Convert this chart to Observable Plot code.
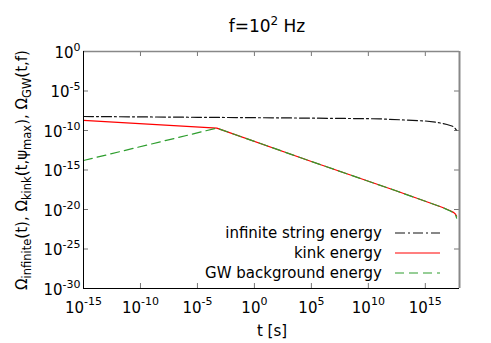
<!DOCTYPE html>
<html>
<head>
<meta charset="utf-8">
<script src="https://cdn.jsdelivr.net/npm/d3@7"></script>
<script src="https://cdn.jsdelivr.net/npm/@observablehq/plot@0.6"></script>
<style>
  html, body { margin: 0; padding: 0; background: white; }
  #chart { width: 491px; height: 343px; }
</style>
</head>
<body>
<div id="chart"></div>
<script>
// ---- data ----
const xTicks = [1e-15, 1e-10, 1e-5, 1, 1e5, 1e10, 1e15];
const yTicks = [1, 1e-5, 1e-10, 1e-15, 1e-20, 1e-25, 1e-30];

const tInfinite = [1e-15, 1e-5, 1e5, 1e11, 1e15, 1e16, 8e16, 2.5e17, 4e17, 5.6e17];
const omegaInfinite = [5.9e-9, 4.7e-9, 3.7e-9, 3.0e-9, 1.6e-9, 1.1e-9, 5.8e-10, 3.5e-10, 2.0e-10, 1.0e-10];

const tKink = [1e-15, 5e-4, 1e5, 2.3e12, 1e15, 2.9e16, 1.55e17, 3.2e17, 4.5e17, 5.6e17];
const omegaKink = [1.9e-9, 2e-10, 1.2e-14, 2.5e-18, 1.1e-19, 1.95e-20, 7e-21, 4e-21, 2.5e-21, 1.4e-21];

const tGW = [1e-15, 5e-4, 1e5, 2.3e12, 1e15, 2.9e16, 1.55e17, 3.2e17, 4.5e17, 5.6e17];
const omegaGW = [1.6e-14, 2e-10, 1.2e-14, 2.5e-18, 1.1e-19, 1.95e-20, 6.5e-21, 3.6e-21, 2.1e-21, 8e-22];

const seriesNames = ["infinite string energy", "kink energy", "GW background energy"];
const seriesColors = ["#111111", "#ff0000", "#2e9e2e"];
const seriesDash = ["10,3,2,3", null, "9,5"];

const zip = (ts, os) => ts.map((t, i) => ({t, o: os[i]}));
const infData = zip(tInfinite, omegaInfinite);
const kinkData = zip(tKink, omegaKink);
const gwData = zip(tGW, omegaGW);

const fmt = d => "10^" + Math.round(Math.log10(d));
const FONT = "'DejaVu Sans', sans-serif";

const plot = Plot.plot({
  width: 491,
  height: 343,
  marginLeft: 83,
  marginRight: 32,
  marginTop: 51,
  marginBottom: 55,
  style: {fontFamily: FONT, fontSize: "15px", color: "black", background: "white"},
  x: {type: "log", domain: [1e-15, 1e18]},
  y: {type: "log", domain: [1e-30, 1]},
  marks: [
    Plot.axisX({ticks: xTicks, tickSize: 0, tickPadding: 14, tickFormat: fmt, label: null, fontSize: 15}),
    Plot.axisY({ticks: yTicks, tickSize: 0, tickPadding: 3, tickFormat: fmt, label: null, fontSize: 15, dy: 1.5}),
    Plot.tickX(xTicks, {x: d => d, insetTop: 232, stroke: "#777"}),
    Plot.tickX(xTicks, {x: d => d, insetBottom: 232, stroke: "#777"}),
    Plot.tickY(yTicks, {y: d => d, insetRight: 371, stroke: "#777"}),
    Plot.tickY(yTicks, {y: d => d, insetLeft: 371, stroke: "#777"}),
    Plot.line(infData, {x: "t", y: "o", stroke: seriesColors[0], strokeWidth: 1.2, strokeDasharray: seriesDash[0]}),
    Plot.line(kinkData, {x: "t", y: "o", stroke: seriesColors[1], strokeWidth: 1.2}),
    Plot.line(gwData, {x: "t", y: "o", stroke: seriesColors[2], strokeWidth: 1.2, strokeDasharray: seriesDash[2]}),
    Plot.ruleY([1], {stroke: "#888", strokeWidth: 1.5}),
    Plot.ruleX([1e18], {stroke: "#888", strokeWidth: 2}),
    Plot.ruleX([1e-15], {stroke: "black", strokeWidth: 1}),
    Plot.ruleY([1e-30], {stroke: "black", strokeWidth: 1})
  ]
});

document.getElementById("chart").appendChild(plot);

// superscript tick labels
const NS = "http://www.w3.org/2000/svg";
function supLabel(textEl, raise) {
  const s = textEl.textContent;
  const parts = s.split("^");
  textEl.textContent = "";
  const b = document.createElementNS(NS, "tspan");
  b.textContent = parts[0];
  textEl.appendChild(b);
  const e = document.createElementNS(NS, "tspan");
  e.textContent = parts[1];
  e.setAttribute("font-size", "11");
  e.setAttribute("dy", String(-raise));
  textEl.appendChild(e);
}
plot.querySelectorAll('g[aria-label="x-axis tick label"] text').forEach(t => supLabel(t, 8));
plot.querySelectorAll('g[aria-label="y-axis tick label"] text').forEach(t => supLabel(t, 7));

function addText(parent, attrs, pieces, small) {
  const t = document.createElementNS(NS, "text");
  for (const k in attrs) t.setAttribute(k, attrs[k]);
  let shift = 0;
  for (const [txt, kind] of pieces) {
    const sp = document.createElementNS(NS, "tspan");
    sp.textContent = txt;
    let target = 0;
    if (kind === "sub") { target = 4; sp.setAttribute("font-size", small || "11"); }
    if (kind === "sup") { target = -7; sp.setAttribute("font-size", small || "11"); }
    if (target !== shift) sp.setAttribute("dy", String(target - shift));
    shift = target;
    t.appendChild(sp);
  }
  parent.appendChild(t);
  return t;
}

const g = document.createElementNS(NS, "g");
g.setAttribute("font-family", FONT);
g.setAttribute("fill", "black");
plot.appendChild(g);

// title
addText(g, {x: 267, y: 32, "text-anchor": "middle", "font-size": 17}, [["f=10"], ["2", "sup"], [" Hz"]], "12");
// x label
addText(g, {x: 272, y: 336, "text-anchor": "middle", "font-size": 15}, [["t [s]"]]);
// y label
addText(g, {transform: "translate(27,170) rotate(-90)", "text-anchor": "middle", "font-size": 15},
  [["Ω"], ["infinite", "sub"], ["(t), Ω"], ["kink", "sub"], ["(t,ψ"], ["max", "sub"], ["), Ω"], ["GW", "sub"], ["(t,f)"]], "11.5");

// legend
const legendRows = [233, 253, 273];
seriesNames.forEach((name, i) => {
  addText(g, {x: 382, y: legendRows[i] + 5, "text-anchor": "end", "font-size": 15}, [[name]]);
  const l = document.createElementNS(NS, "line");
  l.setAttribute("x1", 395); l.setAttribute("x2", 440);
  l.setAttribute("y1", legendRows[i]); l.setAttribute("y2", legendRows[i]);
  l.setAttribute("stroke", seriesColors[i]);
  l.setAttribute("stroke-width", 1.2);
  if (seriesDash[i]) l.setAttribute("stroke-dasharray", seriesDash[i]);
  g.appendChild(l);
});
</script>
</body>
</html>
